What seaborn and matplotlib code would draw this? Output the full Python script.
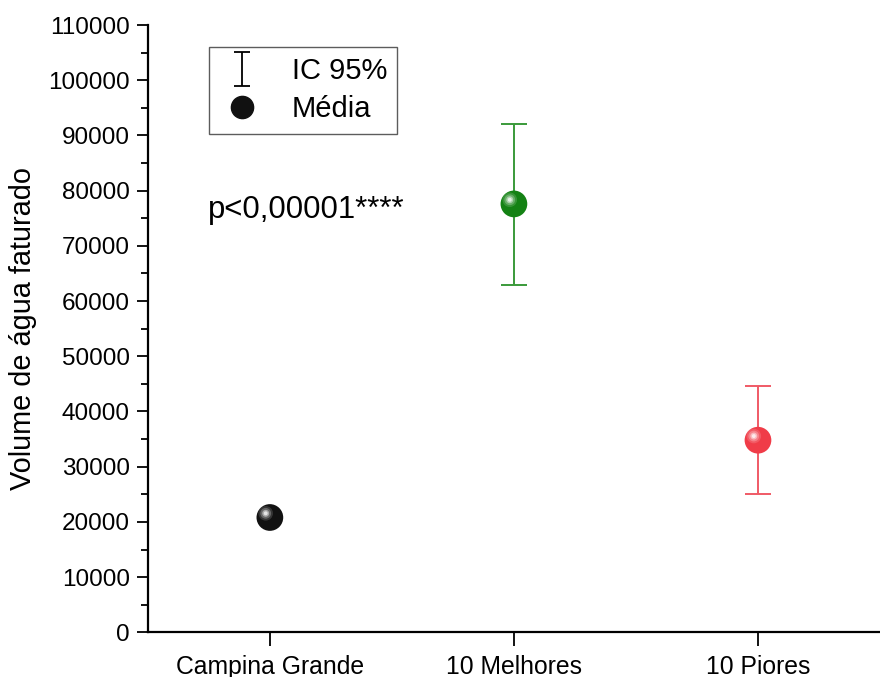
import numpy as np
import pandas as pd
import matplotlib
matplotlib.use('Agg')
import matplotlib.pyplot as plt
import seaborn as sns
from matplotlib.ticker import MultipleLocator
from matplotlib.lines import Line2D
from matplotlib.path import Path
from matplotlib.transforms import ScaledTranslation

groups = ['Campina Grande', '10 Melhores', '10 Piores']
means = [20800, 77600, 34800]
ci_low = [20800, 62900, 25000]
ci_high = [20800, 92000, 44700]
colors = ['#111111', '#148214', '#f03c48']
bar_colors = ['#111111', '#3a9a3a', '#f05a66']

sns.set_style('ticks')
plt.rcParams['font.family'] = ['Liberation Sans', 'DejaVu Sans']
plt.rcParams['text.color'] = 'black'
plt.rcParams['axes.labelcolor'] = 'black'
plt.rcParams['xtick.color'] = 'black'
plt.rcParams['ytick.color'] = 'black'
plt.rcParams['axes.edgecolor'] = 'black'

df = pd.DataFrame({'Grupo': groups, 'Media': means, 'lo': ci_low, 'hi': ci_high})

fig = plt.figure(figsize=(8.8, 6.77), dpi=100)
ax = fig.add_axes([0.168, 0.066, 0.832, 0.897])

# IC 95% error bars (Campina Grande has none)
for i, row in df.iterrows():
    if row['hi'] > row['lo']:
        ax.errorbar(i, row['Media'],
                    yerr=[[row['Media'] - row['lo']], [row['hi'] - row['Media']]],
                    fmt='none', ecolor=bar_colors[i], elinewidth=1.4, capsize=9.5,
                    capthick=1.4, zorder=2)

sns.scatterplot(data=df, x='Grupo', y='Media', hue='Grupo', palette=colors,
                s=370, edgecolor='none', legend=False, ax=ax, zorder=3)

# soft highlight to mimic the shaded spheres
hl = ax.transData + ScaledTranslation(-3 / 72, 3 / 72, fig.dpi_scale_trans)
for k, (sz, al) in enumerate([(110, 0.15), (60, 0.25), (25, 0.45), (8, 0.7)]):
    sns.scatterplot(data=df, x='Grupo', y='Media', color='white', s=sz, alpha=al,
                    edgecolor='none', legend=False, ax=ax, zorder=4 + k, transform=hl)

ax.set_xlim(-0.5, 2.5)
ax.set_ylim(0, 110000)
ax.yaxis.set_major_locator(MultipleLocator(10000))
ax.yaxis.set_minor_locator(MultipleLocator(5000))
ax.tick_params(axis='y', which='major', length=8, width=1.3, labelsize=17.5, pad=5)
ax.tick_params(axis='y', which='minor', length=5, width=1.3)
ax.tick_params(axis='x', length=10, width=1.3, labelsize=17.8, pad=6)
ax.set_xlabel('')
ax.set_ylabel('Volume de água faturado', fontsize=20.8, labelpad=8)
sns.despine(ax=ax)
for s in ['left', 'bottom']:
    ax.spines[s].set_linewidth(1.6)

ax.text(0.082, 0.695, 'p<0,00001****', transform=ax.transAxes, fontsize=22.4,
        ha='left', va='center')

# legend handles: errorbar "I" symbol and mean sphere
ibar = Path([(-0.45, -1), (0.45, -1), (0, -1), (0, 1), (-0.45, 1), (0.45, 1)],
            [Path.MOVETO, Path.LINETO, Path.MOVETO, Path.LINETO, Path.MOVETO, Path.LINETO])
h_err = Line2D([], [], linestyle='none', marker=ibar, markersize=24,
               markerfacecolor='none', markeredgecolor='black', markeredgewidth=1.3)
h_mean = Line2D([], [], linestyle='none', marker='o', markersize=16,
                markerfacecolor='#111111', markeredgecolor='#111111')
leg = ax.legend([h_err, h_mean], ['IC 95%', 'Média'], loc='upper left',
                bbox_to_anchor=(0.083, 0.964), borderaxespad=0, fontsize=21,
                frameon=True, fancybox=False, edgecolor='#333333', handlelength=1.6,
                handletextpad=0.9, borderpad=0.35, labelspacing=0.35)
leg.get_frame().set_linewidth(1.0)

fig.savefig('out.png', dpi=100)
